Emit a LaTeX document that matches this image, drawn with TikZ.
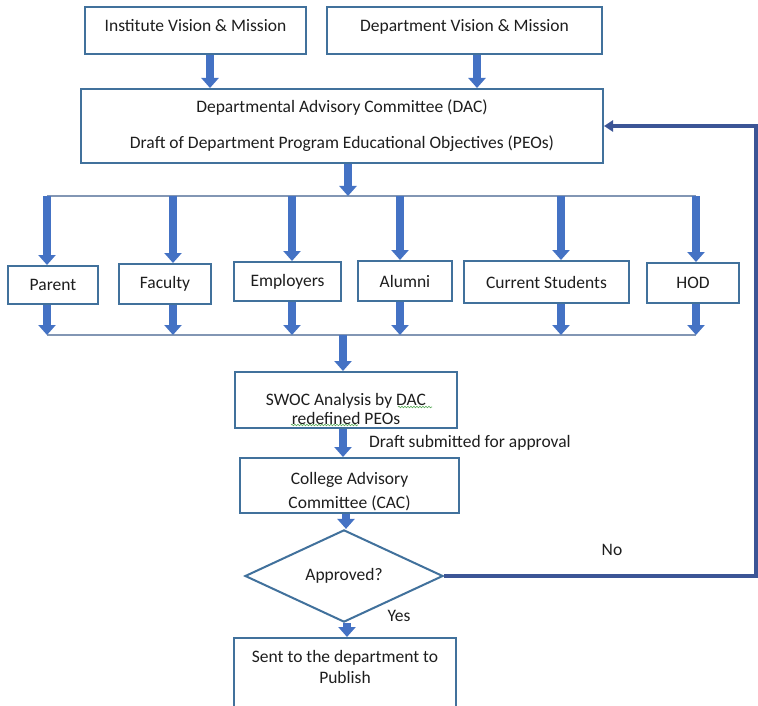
\documentclass[tikz,border=0pt]{standalone}
\usepackage{fontspec}
\setmainfont{Carlito}
\usetikzlibrary{arrows.meta,shapes.geometric,decorations.pathmorphing}
\definecolor{boxblue}{RGB}{65,113,156}
\definecolor{arrblue}{RGB}{68,114,196}
\definecolor{lineblue}{RGB}{130,150,180}
\definecolor{fbblue}{RGB}{60,85,150}
\definecolor{txt}{RGB}{30,30,30}
\definecolor{wavygreen}{RGB}{90,170,90}
\begin{document}
\begin{tikzpicture}[x=1pt,y=-1pt,
  box/.style={draw=boxblue,line width=2pt,fill=white,inner sep=0pt,text=txt,
    font=\fontsize{17.5}{21}\selectfont,align=center},
  fat/.style={draw=arrblue,line width=7.5pt,-{Triangle[width=17pt,length=10pt]}},
  thinline/.style={draw=lineblue,line width=1.5pt},
  fb/.style={draw=fbblue,line width=4pt},
  lbl/.style={text=txt,font=\fontsize{17.5}{21}\selectfont,inner sep=0pt},
  wavyul/.style={draw=wavygreen,line width=0.6pt,decorate,
    decoration={snake,amplitude=0.8pt,segment length=3pt}}]
\useasboundingbox (0,0) rectangle (758,706);
\clip (0,0) rectangle (758,706);
\fill[white] (0,0) rectangle (758,706);

% boxes
\node[box,minimum width=221pt,minimum height=47pt,text height=13pt,text depth=10pt] (inst) at (195.5,30.5) {Institute Vision \& Mission};
\node[box,minimum width=275pt,minimum height=47pt,text height=13pt,text depth=10pt] (dept) at (464.5,30.5) {Department Vision \& Mission};
\node[box,minimum width=522pt,minimum height=74pt] (dac) at (342,126)
  {Departmental Advisory Committee (DAC)\\[15pt]Draft of Department Program Educational Objectives (PEOs)};

\node[box,minimum width=90pt,minimum height=38pt] (parent) at (53,285) {Parent};
\node[box,minimum width=92pt,minimum height=40pt] (faculty) at (165,284) {Faculty};
\node[box,minimum width=107pt,minimum height=39pt] (employers) at (287.5,281.5) {Employers};
\node[box,minimum width=94pt,minimum height=40pt] (alumni) at (405,281) {Alumni};
\node[box,minimum width=165pt,minimum height=42pt] (current) at (546.5,282) {Current Students};
\node[box,minimum width=92pt,minimum height=40pt] (hod) at (693,283) {HOD};

\node[box,minimum width=222pt,minimum height=56pt] (swoc) at (346,400)
  {\rule{0pt}{30pt}SWOC Analysis by DAC\\[-2pt]redefined PEOs};
\node[box,minimum width=219pt,minimum height=55pt] (cac) at (349.5,485.5)
  {\rule{0pt}{25pt}College Advisory\\[3pt]Committee (CAC)};
\node[box,diamond,minimum width=198pt,minimum height=76pt] (dia) at (344,576) {Approved?};
\node[box,anchor=north,minimum width=222pt,inner ysep=12pt,text depth=60pt] (fin) at (345,637)
  {Sent to the department to\\Publish};

% labels
\node[lbl] (draftlbl) at (470,443) {Draft submitted for approval};
\node[lbl] (nolbl) at (612,550) {No};
\node[lbl] (yeslbl) at (399,616) {Yes};

% wavy spell-check underlines
\draw[wavyul] (398,407) -- (432,407);
\draw[wavyul] (291,425) -- (358,425);

% top arrows
\coordinate (ax1) at (210,0);
\coordinate (ax2) at (477,0);
\draw[fat] (inst.south -| ax1) -- (dac.north -| ax1);
\draw[fat] (dept.south -| ax2) -- (dac.north -| ax2);

% distribution lines
\coordinate (tl) at (47,196);
\coordinate (tr) at (696,196);
\coordinate (bl) at (47,335);
\coordinate (br) at (696,335);
\draw[thinline] (tl) -- (tr);
\draw[thinline] (bl) -- (br);
\coordinate (ad) at (348,196);
\draw[fat] (dac.south -| ad) -- (ad);

\foreach \n/\x in {parent/47,faculty/173,employers/292,alumni/400,current/561,hod/696}{
  \coordinate (x\n) at (\x,0);
  \draw[fat] (x\n |- tl) -- (x\n |- \n.north);
  \draw[fat] (x\n |- \n.south) -- (x\n |- bl);
}

% lower chain
\coordinate (xc) at (343,0);
\coordinate (xd) at (346,0);
\coordinate (xe) at (347,0);
\draw[fat] (xc |- bl) -- (xc |- swoc.north);
\draw[fat] (xc |- swoc.south) -- (xc |- cac.north);
\draw[fat] (xd |- cac.south) -- (xd |- dia.north);
\draw[fat] (xe |- dia.south) -- (xe |- fin.north);

% feedback loop
\coordinate (rc) at (756,0);
\draw[fb,-{Triangle[width=11pt,length=9pt]}] (dia.east) -- (dia.east -| rc) -- (dac.east -| rc) -- (dac.east);
\end{tikzpicture}
\end{document}
